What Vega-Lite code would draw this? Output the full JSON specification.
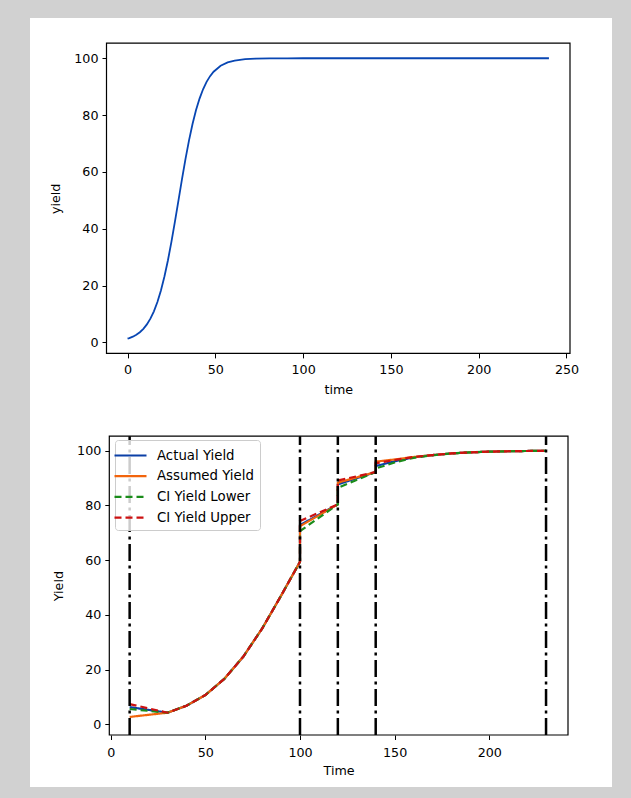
{
  "$schema": "https://vega.github.io/schema/vega-lite/v6.json",
  "width": 582,
  "height": 769,
  "autosize": "none",
  "padding": {"left": 30, "top": 18, "right": 19, "bottom": 11},
  "background": "#d1d1d1",
  "config": {
    "view": {"fill": "#ffffff", "stroke": null},
    "font": "DejaVu Sans",
    "axis": {"domain": false, "grid": false, "labelFont": "DejaVu Sans", "labelFontSize": 12.7, "labelColor": "#000000", "titleFont": "DejaVu Sans", "titleFontSize": 12.7, "titleFontWeight": "normal", "titleColor": "#000000", "tickColor": "#000000", "tickSize": 4.5, "tickWidth": 1, "labelPadding": 4},
    "legend": {"orient": "none", "legendX": 85, "legendY": 422, "fillColor": "rgba(255,255,255,0.8)", "strokeColor": "#cccccc", "cornerRadius": 3, "padding": 6, "labelFont": "DejaVu Sans", "labelFontSize": 13.3, "labelColor": "#000000", "symbolType": "M-2,0H2", "symbolSize": 256, "symbolStrokeWidth": 2.2, "rowPadding": 4.7, "labelOffset": 17}
  },
  "datasets": {
    "curve": [
      {"time": 0, "yield": 1.27}, {"time": 1, "yield": 1.48}, {"time": 3, "yield": 1.98}, {"time": 5, "yield": 2.66}, {"time": 7, "yield": 3.56},
      {"time": 9, "yield": 4.74}, {"time": 11, "yield": 6.30}, {"time": 13, "yield": 8.32}, {"time": 15, "yield": 10.91},
      {"time": 17, "yield": 14.19}, {"time": 19, "yield": 18.24}, {"time": 21, "yield": 23.15}, {"time": 23, "yield": 28.91},
      {"time": 25, "yield": 35.43}, {"time": 27, "yield": 42.56}, {"time": 29, "yield": 50.0}, {"time": 31, "yield": 57.44},
      {"time": 33, "yield": 64.57}, {"time": 35, "yield": 71.09}, {"time": 37, "yield": 76.85}, {"time": 39, "yield": 81.76},
      {"time": 41, "yield": 85.81}, {"time": 43, "yield": 89.09}, {"time": 45, "yield": 91.68}, {"time": 47, "yield": 93.70},
      {"time": 49, "yield": 95.26}, {"time": 53, "yield": 97.34}, {"time": 57, "yield": 98.52}, {"time": 61, "yield": 99.18},
      {"time": 67, "yield": 99.67}, {"time": 73, "yield": 99.86}, {"time": 81, "yield": 99.96}, {"time": 91, "yield": 99.99},
      {"time": 100, "yield": 100}, {"time": 150, "yield": 100}, {"time": 200, "yield": 100}, {"time": 240, "yield": 100}
    ],
    "est": [
      {"series": "Actual Yield", "step": 1, "time": 10, "value": 6.3},
      {"series": "Actual Yield", "step": 2, "time": 30, "value": 4.25},
      {"series": "Actual Yield", "step": 3, "time": 40, "value": 6.8},
      {"series": "Actual Yield", "step": 4, "time": 50, "value": 10.7},
      {"series": "Actual Yield", "step": 5, "time": 60, "value": 16.6},
      {"series": "Actual Yield", "step": 6, "time": 70, "value": 24.7},
      {"series": "Actual Yield", "step": 7, "time": 80, "value": 35.0},
      {"series": "Actual Yield", "step": 8, "time": 90, "value": 47.0},
      {"series": "Actual Yield", "step": 9, "time": 100, "value": 59.4},
      {"series": "Actual Yield", "step": 10, "time": 100, "value": 72.8},
      {"series": "Actual Yield", "step": 11, "time": 120, "value": 80.4},
      {"series": "Actual Yield", "step": 12, "time": 120, "value": 87.7},
      {"series": "Actual Yield", "step": 13, "time": 140, "value": 92.2},
      {"series": "Actual Yield", "step": 14, "time": 140, "value": 94.4},
      {"series": "Actual Yield", "step": 15, "time": 150, "value": 96.1},
      {"series": "Actual Yield", "step": 16, "time": 160, "value": 97.6},
      {"series": "Actual Yield", "step": 17, "time": 170, "value": 98.4},
      {"series": "Actual Yield", "step": 18, "time": 180, "value": 99.0},
      {"series": "Actual Yield", "step": 19, "time": 190, "value": 99.4},
      {"series": "Actual Yield", "step": 20, "time": 200, "value": 99.65},
      {"series": "Actual Yield", "step": 21, "time": 210, "value": 99.8},
      {"series": "Actual Yield", "step": 22, "time": 220, "value": 99.9},
      {"series": "Actual Yield", "step": 23, "time": 230, "value": 99.95},
      {"series": "Assumed Yield", "step": 1, "time": 10, "value": 2.7},
      {"series": "Assumed Yield", "step": 2, "time": 30, "value": 4.25},
      {"series": "Assumed Yield", "step": 3, "time": 40, "value": 6.8},
      {"series": "Assumed Yield", "step": 4, "time": 50, "value": 10.7},
      {"series": "Assumed Yield", "step": 5, "time": 60, "value": 16.6},
      {"series": "Assumed Yield", "step": 6, "time": 70, "value": 24.7},
      {"series": "Assumed Yield", "step": 7, "time": 80, "value": 35.0},
      {"series": "Assumed Yield", "step": 8, "time": 90, "value": 47.0},
      {"series": "Assumed Yield", "step": 9, "time": 100, "value": 59.4},
      {"series": "Assumed Yield", "step": 10, "time": 100, "value": 72.4},
      {"series": "Assumed Yield", "step": 11, "time": 120, "value": 80.4},
      {"series": "Assumed Yield", "step": 12, "time": 120, "value": 88.3},
      {"series": "Assumed Yield", "step": 13, "time": 140, "value": 92.2},
      {"series": "Assumed Yield", "step": 14, "time": 140, "value": 96.0},
      {"series": "Assumed Yield", "step": 15, "time": 150, "value": 96.8},
      {"series": "Assumed Yield", "step": 16, "time": 160, "value": 97.7},
      {"series": "Assumed Yield", "step": 17, "time": 170, "value": 98.4},
      {"series": "Assumed Yield", "step": 18, "time": 180, "value": 99.0},
      {"series": "Assumed Yield", "step": 19, "time": 190, "value": 99.4},
      {"series": "Assumed Yield", "step": 20, "time": 200, "value": 99.65},
      {"series": "Assumed Yield", "step": 21, "time": 210, "value": 99.8},
      {"series": "Assumed Yield", "step": 22, "time": 220, "value": 99.9},
      {"series": "Assumed Yield", "step": 23, "time": 230, "value": 99.95},
      {"series": "CI Yield Lower", "step": 1, "time": 10, "value": 5.6},
      {"series": "CI Yield Lower", "step": 2, "time": 30, "value": 4.25},
      {"series": "CI Yield Lower", "step": 3, "time": 40, "value": 6.8},
      {"series": "CI Yield Lower", "step": 4, "time": 50, "value": 10.7},
      {"series": "CI Yield Lower", "step": 5, "time": 60, "value": 16.6},
      {"series": "CI Yield Lower", "step": 6, "time": 70, "value": 24.7},
      {"series": "CI Yield Lower", "step": 7, "time": 80, "value": 35.0},
      {"series": "CI Yield Lower", "step": 8, "time": 90, "value": 47.0},
      {"series": "CI Yield Lower", "step": 9, "time": 100, "value": 59.4},
      {"series": "CI Yield Lower", "step": 10, "time": 100, "value": 70.6},
      {"series": "CI Yield Lower", "step": 11, "time": 120, "value": 80.4},
      {"series": "CI Yield Lower", "step": 12, "time": 120, "value": 86.4},
      {"series": "CI Yield Lower", "step": 13, "time": 140, "value": 92.2},
      {"series": "CI Yield Lower", "step": 14, "time": 140, "value": 93.5},
      {"series": "CI Yield Lower", "step": 15, "time": 150, "value": 95.7},
      {"series": "CI Yield Lower", "step": 16, "time": 160, "value": 97.4},
      {"series": "CI Yield Lower", "step": 17, "time": 170, "value": 98.3},
      {"series": "CI Yield Lower", "step": 18, "time": 180, "value": 99.0},
      {"series": "CI Yield Lower", "step": 19, "time": 190, "value": 99.4},
      {"series": "CI Yield Lower", "step": 20, "time": 200, "value": 99.65},
      {"series": "CI Yield Lower", "step": 21, "time": 210, "value": 99.8},
      {"series": "CI Yield Lower", "step": 22, "time": 220, "value": 99.9},
      {"series": "CI Yield Lower", "step": 23, "time": 230, "value": 99.95},
      {"series": "CI Yield Upper", "step": 1, "time": 10, "value": 7.4},
      {"series": "CI Yield Upper", "step": 2, "time": 30, "value": 4.25},
      {"series": "CI Yield Upper", "step": 3, "time": 40, "value": 6.8},
      {"series": "CI Yield Upper", "step": 4, "time": 50, "value": 10.7},
      {"series": "CI Yield Upper", "step": 5, "time": 60, "value": 16.6},
      {"series": "CI Yield Upper", "step": 6, "time": 70, "value": 24.7},
      {"series": "CI Yield Upper", "step": 7, "time": 80, "value": 35.0},
      {"series": "CI Yield Upper", "step": 8, "time": 90, "value": 47.0},
      {"series": "CI Yield Upper", "step": 9, "time": 100, "value": 59.4},
      {"series": "CI Yield Upper", "step": 10, "time": 100, "value": 74.3},
      {"series": "CI Yield Upper", "step": 11, "time": 120, "value": 80.4},
      {"series": "CI Yield Upper", "step": 12, "time": 120, "value": 89.1},
      {"series": "CI Yield Upper", "step": 13, "time": 140, "value": 92.2},
      {"series": "CI Yield Upper", "step": 14, "time": 140, "value": 95.4},
      {"series": "CI Yield Upper", "step": 15, "time": 150, "value": 96.6},
      {"series": "CI Yield Upper", "step": 16, "time": 160, "value": 97.7},
      {"series": "CI Yield Upper", "step": 17, "time": 170, "value": 98.4},
      {"series": "CI Yield Upper", "step": 18, "time": 180, "value": 99.0},
      {"series": "CI Yield Upper", "step": 19, "time": 190, "value": 99.4},
      {"series": "CI Yield Upper", "step": 20, "time": 200, "value": 99.65},
      {"series": "CI Yield Upper", "step": 21, "time": 210, "value": 99.8},
      {"series": "CI Yield Upper", "step": 22, "time": 220, "value": 99.9},
      {"series": "CI Yield Upper", "step": 23, "time": 230, "value": 99.95}
    ],
    "checks": [{"t": 10}, {"t": 100}, {"t": 120}, {"t": 140}, {"t": 230}],
    "one": [{"frame": "box"}]
  },
  "layer": [
    {
      "layer": [
        {
          "data": {"name": "curve"},
          "mark": {"type": "line", "color": "#0846b3", "strokeWidth": 1.8},
          "encoding": {
            "x": {"field": "time", "type": "quantitative",
                  "scale": {"domain": [-12, 252], "range": [76.5, 540], "nice": false, "zero": false},
                  "axis": {"orient": "bottom", "offset": -433.6, "values": [0, 50, 100, 150, 200, 250], "title": "time", "labelPadding": 6, "titlePadding": 7}},
            "y": {"field": "yield", "type": "quantitative",
                  "scale": {"domain": [-3.9, 105.3], "range": [335.4, 25.2], "nice": false, "zero": false},
                  "axis": {"orient": "left", "offset": -76.5, "values": [0, 20, 40, 60, 80, 100], "title": "yield", "titlePadding": 11}}
          }
        },
        {
          "data": {"name": "one"},
          "mark": {"type": "rect", "filled": false, "color": "#000000", "strokeWidth": 1.2},
          "encoding": {
            "x": {"datum": -12, "type": "quantitative"},
            "x2": {"datum": 252},
            "y": {"datum": -3.9, "type": "quantitative"},
            "y2": {"datum": 105.3}
          }
        }
      ]
    },
    {
      "layer": [
        {
          "data": {"name": "est"},
          "mark": {"type": "line", "strokeWidth": 2.2},
          "encoding": {
            "x": {"field": "time", "type": "quantitative",
                  "scale": {"domain": [-0.75, 241.6], "range": [79.3, 538], "nice": false, "zero": false},
                  "axis": {"orient": "bottom", "offset": -52, "values": [0, 50, 100, 150, 200], "title": "Time", "labelPadding": 7, "titlePadding": 5}},
            "y": {"field": "value", "type": "quantitative",
                  "scale": {"domain": [-3.9, 105.3], "range": [717, 418.2], "nice": false, "zero": false},
                  "axis": {"orient": "left", "offset": -79.3, "values": [0, 20, 40, 60, 80, 100], "title": "Yield", "titlePadding": 11}},
            "color": {"field": "series", "type": "nominal",
                      "scale": {"domain": ["Actual Yield", "Assumed Yield", "CI Yield Lower", "CI Yield Upper"], "range": ["#0b3fa6", "#f2640c", "#1a8c1a", "#cc1111"]},
                      "legend": {"title": null}},
            "strokeDash": {"field": "series", "type": "nominal",
                      "scale": {"domain": ["Actual Yield", "Assumed Yield", "CI Yield Lower", "CI Yield Upper"], "range": [[1, 0], [1, 0], [7, 4], [7, 4]]},
                      "legend": {"title": null}},
            "order": {"field": "step", "type": "quantitative"}
          }
        },
        {
          "data": {"name": "checks"},
          "mark": {"type": "rule", "color": "#000000", "strokeWidth": 2.5, "strokeDash": [17, 4.5, 3, 4.5]},
          "encoding": {
            "x": {"field": "t", "type": "quantitative"},
            "y": {"datum": -3.9, "type": "quantitative"},
            "y2": {"datum": 105.3}
          }
        },
        {
          "data": {"name": "one"},
          "mark": {"type": "rect", "filled": false, "color": "#000000", "strokeWidth": 1.2},
          "encoding": {
            "x": {"datum": -0.75, "type": "quantitative"},
            "x2": {"datum": 241.6},
            "y": {"datum": -3.9, "type": "quantitative"},
            "y2": {"datum": 105.3}
          }
        }
      ]
    }
  ],
  "resolve": {"scale": {"x": "independent", "y": "independent"}, "axis": {"x": "independent", "y": "independent"}}
}
